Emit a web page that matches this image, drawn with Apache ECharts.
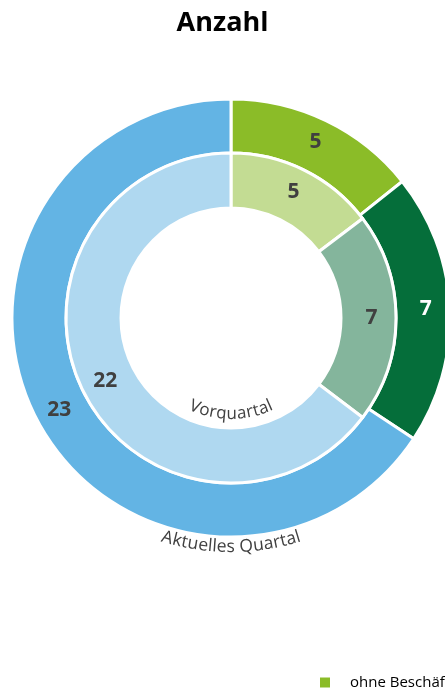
<!DOCTYPE html>
<html>
<head>
<meta charset="utf-8">
<script src="https://cdn.jsdelivr.net/npm/echarts@6/dist/echarts.min.js"></script>
<style>
  html, body { margin: 0; padding: 0; background: #fff; }
  #chart { width: 445px; height: 693px; }
</style>
</head>
<body>
<div id="chart"></div>
<script>
var categories = ['ohne Beschäftigte', 'mit 1 bis 9 Beschäftigten', 'mit 10 und mehr Beschäftigten'];
var current = [5, 7, 23];
var previous = [5, 7, 22];
var currentColors = ['#8BBC28', '#056E3A', '#63B4E4'];
var previousColors = ['#C3DC93', '#84B59C', '#AFD8F0'];
var labelColorsOuter = ['#404040', '#ffffff', '#404040'];

var cx = 231, cy = 318;
var font = '"Open Sans", sans-serif';

function ringData(values, colors, labelColors) {
    var out = [];
    for (var i = 0; i < values.length; i++) {
        out.push({
            name: categories[i],
            value: values[i],
            itemStyle: { color: colors[i] },
            label: { color: labelColors ? labelColors[i] : '#404040' }
        });
    }
    return out;
}

// places each letter of a text along the bottom of a circle
function curvedText(text, r, size) {
    var ctx = document.createElement('canvas').getContext('2d');
    ctx.font = size + 'px ' + font;
    var total = ctx.measureText(text).width;
    var els = [];
    var s = 0;
    for (var i = 0; i < text.length; i++) {
        var w = ctx.measureText(text[i]).width;
        var a = (s + w / 2 - total / 2) / r;
        els.push({
            type: 'text',
            x: cx + r * Math.sin(a),
            y: cy + r * Math.cos(a),
            rotation: a,
            silent: true,
            style: {
                text: text[i],
                fill: '#404040',
                fontSize: size,
                fontFamily: font,
                align: 'center',
                verticalAlign: 'middle',
                textAlign: 'center',
                textVerticalAlign: 'middle'
            }
        });
        s += w;
    }
    return els;
}

var myChart = echarts.init(document.getElementById('chart'));
var option = {
    animation: false,
    title: {
        text: 'Anzahl',
        left: 'center',
        top: 5,
        textStyle: { fontFamily: font, fontSize: 27, fontWeight: 'bold', color: '#000' }
    },
    legend: {
        data: categories,
        left: 318,
        top: 675,
        padding: 0,
        orient: 'horizontal',
        icon: 'rect',
        itemWidth: 12,
        itemHeight: 12,
        textStyle: { fontFamily: font, fontSize: 15, color: '#000', padding: [0, 0, 0, 14] }
    },
    graphic: curvedText('Vorquartal', 96, 17).concat(curvedText('Aktuelles Quartal', 229, 17.5)),
    series: [{
        name: 'Aktuelles Quartal',
        type: 'pie',
        center: [cx, cy],
        radius: [165, 219],
        startAngle: 90,
        silent: true,
        itemStyle: { borderColor: '#fff', borderWidth: 3 },
        label: {
            position: 'inside',
            formatter: '{c}',
            fontFamily: font,
            fontSize: 21,
            fontWeight: 'bold'
        },
        labelLine: { show: false },
        data: ringData(current, currentColors, labelColorsOuter)
    }, {
        name: 'Vorquartal',
        type: 'pie',
        center: [cx, cy],
        radius: [110, 165],
        startAngle: 90,
        silent: true,
        itemStyle: { borderColor: '#fff', borderWidth: 3 },
        label: {
            position: 'inside',
            formatter: '{c}',
            fontFamily: font,
            fontSize: 21,
            fontWeight: 'bold'
        },
        labelLine: { show: false },
        data: ringData(previous, previousColors)
    }]
};

myChart.setOption(option);

window.onresize = function() {
    myChart.resize();
};
</script>
</body>
</html>
